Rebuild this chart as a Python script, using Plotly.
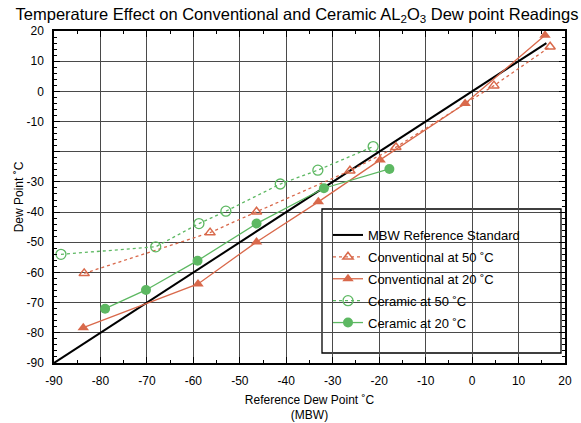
import plotly.graph_objects as go

# Reference line (MBW)
mbw_x = [-90, 16]
mbw_y = [-90, 16]

conv50_x = [-83.5, -56.4, -46.4, -26.3, -16.4, 4.7, 16.8]
conv50_y = [-60.3, -46.8, -39.9, -26.3, -18.5, 1.9, 14.8]

conv20_x = [-83.7, -59.0, -46.4, -33.1, -19.8, -1.5, 15.7]
conv20_y = [-78.3, -63.8, -49.9, -36.6, -22.7, -4.0, 18.6]

cer50_x = [-88.5, -68.1, -58.8, -53.0, -41.3, -33.2, -21.3]
cer50_y = [-54.0, -51.5, -43.8, -39.7, -30.7, -26.1, -18.3]

cer20_x = [-79.0, -70.2, -59.1, -46.4, -31.9, -17.8]
cer20_y = [-72.0, -65.8, -56.1, -43.8, -32.1, -25.7]

x_ticks = [-90, -80, -70, -60, -50, -40, -30, -20, -10, 0, 10, 20]
x_ticktext = ["-90", "-80", "-70", "-60", "-50", "-40", "-30", "-20", "-10", "0", "10", "20"]
y_ticks = [20, 10, 0, -10, -20, -30, -40, -50, -60, -70, -80, -90]
y_ticktext = ["20", "10", "0", "-10", "", "-30", "-40", "-50", "-60", "-70", "-80", "-90"]

ORANGE = "#D9694B"
GREEN = "#5DB862"
FONT = "Liberation Sans, Arial, sans-serif"

fig = go.Figure()
fig.add_trace(go.Scatter(x=mbw_x, y=mbw_y, mode="lines", name="MBW Reference Standard",
                         legendgroup="a", line=dict(color="black", width=2)))
fig.add_trace(go.Scatter(x=conv50_x, y=conv50_y, mode="lines+markers", name="Conventional at 50 ˚C",
                         legendgroup="b", line=dict(color=ORANGE, width=1.3, dash="dot"),
                         marker=dict(symbol="triangle-up-open", size=9, color=ORANGE, line=dict(width=1.5))))
fig.add_trace(go.Scatter(x=conv20_x, y=conv20_y, mode="lines+markers", name="Conventional at 20 ˚C",
                         legendgroup="c", line=dict(color=ORANGE, width=1.3),
                         marker=dict(symbol="triangle-up", size=10, color=ORANGE)))
fig.add_trace(go.Scatter(x=cer50_x, y=cer50_y, mode="lines+markers", name="Ceramic at 50 ˚C",
                         legendgroup="d", line=dict(color=GREEN, width=1.3, dash="dot"),
                         marker=dict(symbol="circle-open", size=10, color=GREEN, line=dict(width=1.3))))
fig.add_trace(go.Scatter(x=cer20_x, y=cer20_y, mode="lines+markers", name="Ceramic at 20 ˚C",
                         legendgroup="e", line=dict(color=GREEN, width=1.3),
                         marker=dict(symbol="circle", size=10, color=GREEN)))

axis_common = dict(
    showline=True, linecolor="black", linewidth=1.5, mirror="ticks",
    ticks="inside", ticklen=6, tickcolor="black", tickwidth=1.3,
    showgrid=True, gridcolor="#4a4a4a", gridwidth=1.3,
    zeroline=False, automargin=False,
    tickfont=dict(family=FONT, size=12, color="black"),
)

fig.update_xaxes(range=[-90, 20], tickvals=x_ticks, ticktext=x_ticktext, ticklabelstandoff=6, **axis_common,
                 minor=dict(ticks="inside", ticklen=3, dtick=5, tickcolor="black", showgrid=False),
                 title=dict(text="Reference Dew Point ˚C<br>(MBW)", font=dict(family=FONT, size=12, color="black"),
                            standoff=8))
fig.update_yaxes(range=[-90, 20], tickvals=y_ticks, ticktext=y_ticktext, ticklabelstandoff=6, **axis_common,
                 minor=dict(ticks="inside", ticklen=3, dtick=2, tickcolor="black", showgrid=False),
                 title=dict(text="Dew Point ˚C", font=dict(family=FONT, size=12, color="black"), standoff=0))

fig.add_shape(type="rect", xref="paper", yref="paper",
              x0=(322 - 54) / 511, x1=(561 - 54) / 511,
              y0=(363 - 353) / 332, y1=(363 - 209) / 332,
              fillcolor="white", line=dict(color="black", width=1.3), layer="between")

fig.update_layout(
    width=581, height=423,
    margin=dict(l=54, r=16, t=31, b=60, autoexpand=False),
    plot_bgcolor="white", paper_bgcolor="white",
    font=dict(family=FONT, size=12, color="black"),
    title=dict(text="Temperature Effect on Conventional and Ceramic AL<sub>2</sub>O<sub>3</sub> Dew point Readings",
               x=297 / 581, xanchor="center", y=1 - 14 / 423, yanchor="middle", automargin=False,
               font=dict(family=FONT, size=16.5, color="black")),
    showlegend=True,
    legend=dict(x=(328 - 54) / 511, y=(363 - 220) / 332, xanchor="left", yanchor="top",
                bgcolor="rgba(0,0,0,0)", borderwidth=0,
                font=dict(family=FONT, size=13, color="black"), tracegroupgap=2),
)

fig.write_html("out.html", post_script="document.body.style.margin='0';",
               config={"displayModeBar": False})
